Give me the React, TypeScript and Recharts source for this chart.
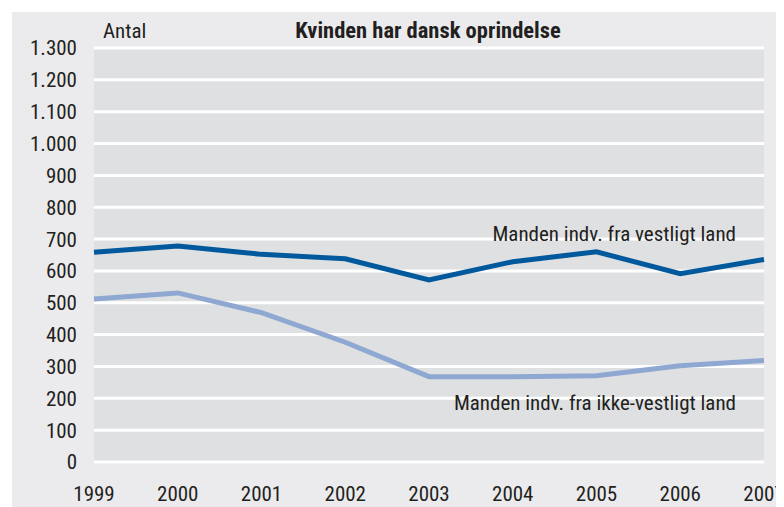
import { LineChart, Line, XAxis, YAxis, CartesianGrid, Customized } from 'recharts';

const years = [1999, 2000, 2001, 2002, 2003, 2004, 2005, 2006, 2007];
const vestligt = [659, 678, 652, 638, 572, 629, 660, 591, 636];
const ikkeVestligt = [512, 531, 469, 376, 268, 268, 271, 302, 319];
const yTicks = [0, 100, 200, 300, 400, 500, 600, 700, 800, 900, 1000, 1100, 1200, 1300];

const data = years.map((year, i) => ({
  year,
  vestligt: vestligt[i],
  ikkeVestligt: ikkeVestligt[i],
}));

const FONT = '"Liberation Sans Narrow", "Roboto Condensed", "DejaVu Sans Condensed", "Open Sans", sans-serif';
const TEXT = '#231f20';
const SIZE = 21;

const fmt = (v: number) => v.toLocaleString('da-DK');

function Annotations() {
  return (
    <g style={{ fontFamily: FONT }} fill={TEXT}>
      <text x={95} y={30} fontSize={SIZE}>Antal</text>
      <text x={420} y={30} fontSize={22.5} fontWeight="bold" textAnchor="middle">
        Kvinden har dansk oprindelse
      </text>
      <text x={728} y={233} fontSize={SIZE} textAnchor="end">Manden indv. fra vestligt land</text>
      <text x={728} y={402} fontSize={SIZE} textAnchor="end">Manden indv. fra ikke-vestligt land</text>
    </g>
  );
}

export default function App() {
  return (
    <div style={{ position: 'relative', width: 776, height: 499 }}>
      <div
        style={{ position: 'absolute', left: 4, top: 4, width: 772, height: 495, background: '#ebebed' }}
      />
      <div style={{ position: 'absolute', left: 0, top: 0 }}>
        <LineChart
          width={776}
          height={499}
          data={data}
          margin={{ top: 40, right: 20, left: 26, bottom: 10 }}
        >
          <CartesianGrid
            vertical={false}
            horizontal
            fill="#dfe0e2"
            fillOpacity={1}
            stroke="#ffffff"
            strokeWidth={3}
          />
          <XAxis
            dataKey="year"
            axisLine={false}
            tickLine={false}
            interval={0}
            height={35}
            tickMargin={18}
            tick={{ fill: TEXT, fontSize: SIZE, fontFamily: FONT }}
          />
          <YAxis
            width={60}
            domain={[0, 1300]}
            ticks={yTicks}
            interval={0}
            axisLine={false}
            tickLine={false}
            tickMargin={11}
            tickFormatter={fmt}
            tick={{ fill: TEXT, fontSize: SIZE, fontFamily: FONT }}
          />
          <Line
            type="linear"
            dataKey="ikkeVestligt"
            stroke="#8ea8d2"
            strokeWidth={5}
            dot={false}
            isAnimationActive={false}
          />
          <Line
            type="linear"
            dataKey="vestligt"
            stroke="#00599c"
            strokeWidth={5}
            dot={false}
            isAnimationActive={false}
          />
          <Customized component={Annotations} />
        </LineChart>
      </div>
    </div>
  );
}
